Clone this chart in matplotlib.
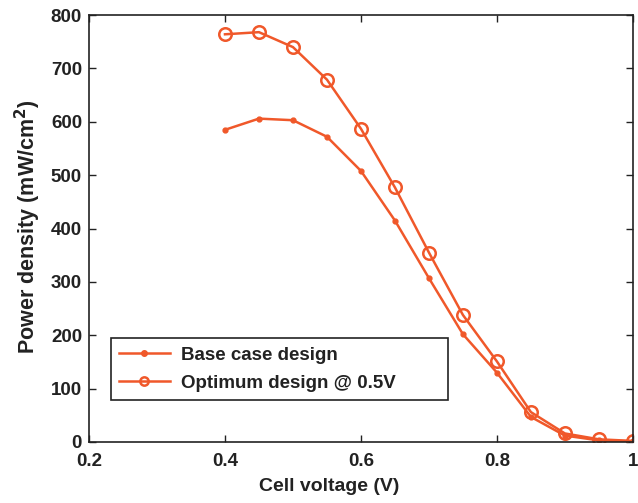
import matplotlib
matplotlib.use("Agg")
import matplotlib.pyplot as plt

plt.rcParams['font.family'] = ['Liberation Sans', 'DejaVu Sans']
plt.rcParams['font.weight'] = 'bold'

# cell voltage (V)
voltage = [0.4, 0.45, 0.5, 0.55, 0.6, 0.65, 0.7, 0.75, 0.8, 0.85, 0.9, 0.95, 1.0]
# power density (mW/cm2)
base_case = [585, 606, 603, 572, 508, 415, 307, 202, 130, 47, 12, 3, 1]
optimum = [764, 768, 740, 679, 587, 477, 355, 238, 151, 56, 16, 5, 2]

col = '#F0582A'
dark = '#222222'

fig = plt.figure(figsize=(6.38, 5.03), dpi=100)
ax = fig.add_axes([0.1395, 0.1213, 0.8525, 0.8487])

ax.plot(voltage, base_case, '-', color=col, lw=1.8, marker='o', ms=3.5,
        label='Base case design')
ax.plot(voltage, optimum, '-', color=col, lw=1.8, marker='o', ms=9,
        mfc='none', mew=1.8, label='Optimum design @ 0.5V')

ax.set_xlim(0.2, 1.0)
ax.set_ylim(0, 800)
ax.set_xticks([0.2, 0.4, 0.6, 0.8, 1.0])
ax.set_xticklabels(['0.2', '0.4', '0.6', '0.8', '1'])
ax.set_yticks(range(0, 801, 100))
ax.tick_params(direction='in', top=True, right=True, length=5, width=1,
               labelsize=13.5, colors=dark)
ax.tick_params(axis='x', pad=8)
ax.tick_params(axis='y', pad=5)
for s in ax.spines.values():
    s.set_linewidth(1.2)
    s.set_color(dark)

ax.set_xlabel('Cell voltage (V)', fontsize=14, fontweight='bold', color=dark)
ax.xaxis.set_label_coords(0.441, -0.085)
ax.set_ylabel('Power density (mW/cm$^\\mathbf{2}$)', fontsize=15.5,
              fontweight='bold', color=dark)
ax.yaxis.set_label_coords(-0.084, 0.505)

leg = ax.legend(loc='lower left', bbox_to_anchor=(0.0404, 0.0984, 0.6195, 0.152),
                mode='expand', borderaxespad=0, fontsize=13.5,
                fancybox=False, edgecolor=dark, framealpha=1,
                handlelength=2.7, handletextpad=0.6, borderpad=0.43,
                labelspacing=0.6)
leg.get_frame().set_linewidth(1.2)
leg.legend_handles[0].set_markersize(4)
leg.legend_handles[1].set_markersize(6)
for t in leg.get_texts():
    t.set_color(dark)

fig.savefig('out.png', dpi=100)
